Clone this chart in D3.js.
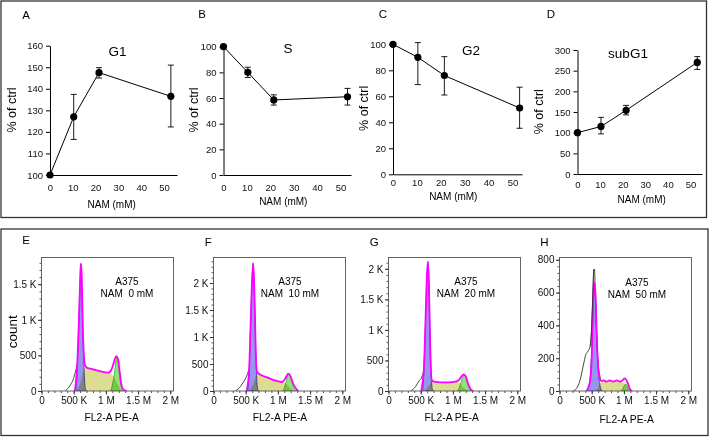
<!DOCTYPE html>
<html>
<head>
<meta charset="utf-8">
<script src="https://cdn.jsdelivr.net/npm/d3@7"></script>
<style>
body { margin: 0; background: #fff; }
text { font-family: "Liberation Sans", Arial, sans-serif; }
</style>
</head>
<body>
<script>
// ---- top row: % of ctrl vs NAM (mM) ----
var nam = [0, 10.4, 21.5, 53];
var namTicks = [0, 10, 20, 30, 40, 50];

var g1Vals = [100, 127, 147.5, 136.5];
var g1Lo = [100, 116.5, 145, 122.3];
var g1Hi = [100, 137.4, 149.8, 151];

var sVals = [100, 80, 58.5, 61];
var sLo = [100, 76, 54.5, 54.5];
var sHi = [100, 84, 62.5, 67.5];

var g2Vals = [100, 90, 76, 51];
var g2Lo = [100, 69, 61, 35.4];
var g2Hi = [100, 101.3, 90.5, 67];

var subG1Vals = [100, 115, 154, 270];
var subG1Lo = [100, 97, 143, 253];
var subG1Hi = [100, 137, 166, 284];

var topTitles = ["G1", "S", "G2", "subG1"];
var topLetters = ["A", "B", "C", "D"];
var topYTicks = [
  [100, 110, 120, 130, 140, 150, 160],
  [0, 20, 40, 60, 80, 100],
  [0, 20, 40, 60, 80, 100],
  [0, 50, 100, 150, 200, 250, 300]
];

// ---- bottom row: FL2-A histograms, points are [FL2-A in K, count] ----
var histLetters = ["E", "F", "G", "H"];
var histNam = ["NAM  0 mM", "NAM  10 mM", "NAM  20 mM", "NAM  50 mM"];
var histXTicks = [0, 500, 1000, 1500, 2000];
var histXLabels = ["0", "500 K", "1 M", "1.5 M", "2 M"];
var histYTicks = [
  [0, 500, 1000, 1500],
  [0, 500, 1000, 1500, 2000],
  [0, 500, 1000, 1500, 2000],
  [0, 200, 400, 600, 800]
];
var histYLabels = [
  ["0", "500", "1 K", "1.5 K"],
  ["0", "500", "1 K", "1.5 K", "2 K"],
  ["0", "500", "1 K", "1.5 K", "2 K"],
  ["0", "200", "400", "600", "800"]
];

var rawCurves = [
  [[368,0],[445,80],[497,173],[523,257],[554,360]],
  [[342,0],[420,86],[472,179],[513,271],[549,395]],
  [[342,0],[420,71],[472,164],[508,207],[544,317]],
  [[212,0],[264,16],[316,61],[368,152],[409,223],[446,244],[477,274],[497,365],[518,589],[534,741],[544,741],[554,629],[575,365],[596,183],[622,101],[642,71]]
];

var fitCurves = [
  [[518,0],[539,173],[554,360],[575,828],[591,1296],[606,1694],[611,1788],[622,1670],[632,1296],[643,828],[658,500],[673,370],[705,328],[756,314],[860,290],[963,267],[1041,257],[1093,314],[1129,417],[1160,491],[1187,454],[1212,290],[1238,103],[1274,19],[1326,0]],
  [[513,0],[539,179],[554,395],[575,1172],[596,1968],[616,2369],[632,1968],[648,1172],[663,487],[679,352],[730,302],[834,253],[963,191],[1067,167],[1119,241],[1160,321],[1197,271],[1233,148],[1274,56],[1316,0]],
  [[508,0],[534,180],[549,344],[570,972],[591,1736],[611,2118],[627,1790],[642,1026],[658,371],[673,180],[705,153],[808,142],[938,142],[1041,153],[1093,180],[1145,251],[1171,273],[1202,235],[1233,126],[1274,33],[1316,0]],
  [[420,0],[456,30],[482,81],[502,223],[518,467],[534,640],[544,660],[559,589],[580,325],[601,142],[627,71],[653,61],[689,65],[730,57],[782,65],[834,57],[886,65],[938,57],[979,65],[1015,77],[1041,65],[1067,41],[1098,10],[1129,0]]
];

var g1Curves = [
  [[530,0],[545,60],[556,360],[575,830],[591,1296],[611,1780],[622,1660],[632,1290],[643,820],[658,380],[670,130],[685,20],[700,0]],
  [[525,0],[540,60],[554,390],[575,1170],[596,1960],[616,2360],[632,1960],[648,1170],[663,480],[675,150],[690,20],[705,0]],
  [[520,0],[535,50],[549,340],[570,970],[591,1730],[611,2110],[627,1780],[642,1020],[658,360],[670,120],[685,15],[700,0]],
  [[415,0],[440,15],[470,60],[490,170],[505,280],[518,460],[534,630],[544,650],[559,585],[580,320],[601,140],[622,50],[645,10],[665,0]]
];

var sCurves = [
  [[545,0],[580,60],[620,170],[650,280],[673,340],[705,328],[756,312],[860,290],[963,268],[1041,255],[1090,235],[1130,190],[1170,120],[1210,50],[1245,0]],
  [[550,0],[590,70],[630,170],[663,300],[690,320],[730,300],[834,253],[963,191],[1067,167],[1110,150],[1150,110],[1190,55],[1230,15],[1255,0]],
  [[560,0],[600,50],[640,110],[673,160],[705,150],[808,142],[938,142],[1041,150],[1093,140],[1130,100],[1170,55],[1210,20],[1240,0]],
  [[560,0],[590,15],[620,40],[650,55],[690,60],[780,58],[880,58],[960,55],[1010,45],[1045,30],[1075,12],[1100,0]]
];

var g2Curves = [
  [[1070,0],[1095,60],[1120,180],[1145,330],[1162,470],[1185,430],[1205,280],[1225,120],[1250,30],[1275,0]],
  [[1075,0],[1100,50],[1130,180],[1160,310],[1190,270],[1215,170],[1240,70],[1265,15],[1285,0]],
  [[1070,0],[1095,40],[1125,140],[1155,240],[1175,270],[1200,230],[1225,130],[1250,40],[1275,5],[1290,0]],
  [[950,0],[985,15],[1015,38],[1040,42],[1060,25],[1085,8],[1105,0]]
];

var topVals = [g1Vals, sVals, g2Vals, subG1Vals];
var topLo = [g1Lo, sLo, g2Lo, subG1Lo];
var topHi = [g1Hi, sHi, g2Hi, subG1Hi];

var width = 709, height = 437;
var svg = d3.select("body").append("svg")
  .attr("width", width)
  .attr("height", height);

// outer frames
svg.append("rect").attr("x", 1).attr("y", 1).attr("width", 705.5).attr("height", 216.5)
  .attr("fill", "none").attr("stroke", "#333").attr("stroke-width", 1.3);
svg.append("rect").attr("x", 1).attr("y", 229).attr("width", 707).attr("height", 206.5)
  .attr("fill", "none").attr("stroke", "#333").attr("stroke-width", 1.3);

// layout for the top panels
var topLayout = [
  {x0: 50, x1: 177, xMax: 55.7, yTop: 45.7, yBot: 175, pad: 9, letter: [26, 15], title: [117.5, 51], ylab: [12, 110], xlab: [111.7, 204]},
  {x0: 223.5, x1: 351, xMax: 54.5, yTop: 46.7, yBot: 175, pad: 9, letter: [202, 13.5], title: [288, 48], ylab: [193.5, 110], xlab: [283.3, 201.7]},
  {x0: 393, x1: 522, xMax: 54, yTop: 44.3, yBot: 174.3, pad: 5, letter: [383, 13.5], title: [471, 50], ylab: [363.5, 108.3], xlab: [453.3, 196.7]},
  {x0: 577.5, x1: 702, xMax: 55.1, yTop: 50, yBot: 174, pad: 7, letter: [551, 14], title: [628, 53], ylab: [538.5, 111.7], xlab: [641.7, 199.3]}
];

function styleAxis(sel, size, color) {
  sel.selectAll("path, line").attr("stroke", color);
  sel.selectAll("text").attr("font-size", size).attr("fill", "#111")
    .attr("font-family", '"Liberation Sans", Arial, sans-serif');
}

topLayout.forEach(function(L, i) {
  var x = d3.scaleLinear().domain([0, L.xMax]).range([L.x0, L.x1]);
  var yDom = d3.extent(topYTicks[i]);
  var y = d3.scaleLinear().domain(yDom).range([L.yBot, L.yTop]);
  var g = svg.append("g");

  var ya = g.append("g").attr("transform", "translate(" + L.x0 + ",0)")
    .call(d3.axisLeft(y).tickValues(topYTicks[i]).tickSize(4).tickSizeOuter(0).tickPadding(3));
  styleAxis(ya, "9.5px", "#000");

  var xa = g.append("g").attr("transform", "translate(0," + L.yBot + ")")
    .call(d3.axisBottom(x).tickValues(namTicks).tickSize(0).tickSizeOuter(0).tickPadding(L.pad));
  styleAxis(xa, "9.5px", "#000");

  var vals = topVals[i], lo = topLo[i], hi = topHi[i];

  g.append("path")
    .datum(vals)
    .attr("fill", "none").attr("stroke", "#000").attr("stroke-width", 1)
    .attr("d", d3.line().x(function(d, k) { return x(nam[k]); }).y(function(d) { return y(d); }));

  // error bars with caps (the 0 mM point has none)
  var idx = d3.range(vals.length).filter(function(k) { return hi[k] !== lo[k]; });
  var eb = g.selectAll(".eb").data(idx).join("g").attr("class", "eb");
  eb.append("line")
    .attr("x1", function(k) { return x(nam[k]); })
    .attr("x2", function(k) { return x(nam[k]); })
    .attr("y1", function(k) { return y(hi[k]); })
    .attr("y2", function(k) { return y(lo[k]); })
    .attr("stroke", "#000").attr("stroke-width", 0.9);
  eb.append("line")
    .attr("x1", function(k) { return x(nam[k]) - 3; })
    .attr("x2", function(k) { return x(nam[k]) + 3; })
    .attr("y1", function(k) { return y(hi[k]); })
    .attr("y2", function(k) { return y(hi[k]); })
    .attr("stroke", "#000").attr("stroke-width", 0.9);
  eb.append("line")
    .attr("x1", function(k) { return x(nam[k]) - 3; })
    .attr("x2", function(k) { return x(nam[k]) + 3; })
    .attr("y1", function(k) { return y(lo[k]); })
    .attr("y2", function(k) { return y(lo[k]); })
    .attr("stroke", "#000").attr("stroke-width", 0.9);

  g.selectAll("circle").data(vals).join("circle")
    .attr("cx", function(d, k) { return x(nam[k]); })
    .attr("cy", function(d) { return y(d); })
    .attr("r", 3.6)
    .attr("fill", "#000");

  g.append("text").attr("x", L.letter[0]).attr("y", L.letter[1] + 4)
    .attr("text-anchor", "middle").attr("font-size", "11.5px").text(topLetters[i]);
  g.append("text").attr("x", L.title[0]).attr("y", L.title[1] + 4.8)
    .attr("text-anchor", "middle").attr("font-size", "13.5px").text(topTitles[i]);
  g.append("text").attr("transform", "translate(" + (L.ylab[0] + 4.3) + "," + L.ylab[1] + ") rotate(-90)")
    .attr("text-anchor", "middle").attr("font-size", "12.5px").text("% of ctrl");
  g.append("text").attr("x", L.xlab[0]).attr("y", L.xlab[1] + 3.6)
    .attr("text-anchor", "middle").attr("font-size", "10px").text("NAM (mM)");
});

// layout for the histogram panels
var histLayout = [
  {x0: 41.5, yMax: 1875, letter: [26, 240], label: [127, 285], xlab: [111.7, 417.7]},
  {x0: 213.5, yMax: 2472, letter: [208.3, 241.7], label: [290, 285], xlab: [280, 417.7]},
  {x0: 388.5, yMax: 2185, letter: [374.3, 241.7], label: [466, 285], xlab: [451.7, 417.7]},
  {x0: 559.5, yMax: 814, letter: [544.3, 242.3], label: [637, 286], xlab: [626.7, 419.3]}
];
var boxW = 132, boxTop = 257.5, boxBot = 391;

histLayout.forEach(function(L, i) {
  var x = d3.scaleLinear().domain([0, 2050]).range([L.x0, L.x0 + boxW]);
  var y = d3.scaleLinear().domain([0, L.yMax]).range([boxBot, boxTop]);
  var g = svg.append("g");

  g.append("clipPath").attr("id", "clip" + i).append("rect")
    .attr("x", L.x0).attr("y", boxTop).attr("width", boxW).attr("height", boxBot - boxTop);
  var plot = g.append("g").attr("clip-path", "url(#clip" + i + ")");

  var area = d3.area().x(function(d) { return x(d[0]); }).y0(y(0))
    .y1(function(d) { return y(d[1]); }).curve(d3.curveMonotoneX);
  var line = d3.line().x(function(d) { return x(d[0]); })
    .y(function(d) { return y(d[1]); }).curve(d3.curveMonotoneX);

  plot.append("path").datum(sCurves[i]).attr("d", area)
    .attr("fill", "#dcdc92").style("mix-blend-mode", "multiply");
  plot.append("path").datum(g1Curves[i]).attr("d", area)
    .attr("fill", "#9696f0").attr("stroke", "#3434d8").attr("stroke-width", 0.8)
    .style("mix-blend-mode", "multiply");
  plot.append("path").datum(g2Curves[i]).attr("d", area)
    .attr("fill", "#8ee47a").attr("stroke", "#30b030").attr("stroke-width", 0.8)
    .style("mix-blend-mode", "multiply");
  plot.append("path").datum(rawCurves[i]).attr("d", line)
    .attr("fill", "none").attr("stroke", "#333").attr("stroke-width", 0.9);
  plot.append("path").datum(fitCurves[i]).attr("d", line)
    .attr("fill", "none").attr("stroke", "#ff00ff").attr("stroke-width", 1.8);
  if (i === 3) {
    // raw peak pokes above the fit in the 50 mM panel
    plot.append("path").datum(rawCurves[i].slice(6, 11)).attr("d", line)
      .attr("fill", "none").attr("stroke", "#333").attr("stroke-width", 0.9);
  }

  g.append("rect").attr("x", L.x0).attr("y", boxTop).attr("width", boxW).attr("height", boxBot - boxTop)
    .attr("fill", "none").attr("stroke", "#555").attr("stroke-width", 0.9);

  // minor ticks
  var yStep = i === 3 ? 40 : 100;
  var ym = g.append("g").attr("transform", "translate(" + L.x0 + ",0)")
    .call(d3.axisLeft(y).tickValues(d3.range(0, L.yMax, yStep)).tickSize(2).tickSizeOuter(0).tickFormat(""));
  ym.select(".domain").remove();
  styleAxis(ym, "9px", "#555");
  var xm = g.append("g").attr("transform", "translate(0," + boxBot + ")")
    .call(d3.axisBottom(x).tickValues(d3.range(0, 2050, 100)).tickSize(2).tickSizeOuter(0).tickFormat(""));
  xm.select(".domain").remove();
  styleAxis(xm, "9px", "#555");

  var ya = g.append("g").attr("transform", "translate(" + L.x0 + ",0)")
    .call(d3.axisLeft(y).tickValues(histYTicks[i]).tickSize(3.5).tickSizeOuter(0).tickPadding(1.5)
      .tickFormat(function(d, k) { return histYLabels[i][k]; }));
  ya.select(".domain").remove();
  styleAxis(ya, "10px", "#333");

  var xa = g.append("g").attr("transform", "translate(0," + boxBot + ")")
    .call(d3.axisBottom(x).tickValues(histXTicks).tickSize(3.5).tickSizeOuter(0).tickPadding(2.5)
      .tickFormat(function(d, k) { return histXLabels[k]; }));
  xa.select(".domain").remove();
  styleAxis(xa, "10px", "#333");

  g.append("text").attr("x", L.letter[0]).attr("y", L.letter[1] + 4)
    .attr("text-anchor", "middle").attr("font-size", "11.5px").text(histLetters[i]);
  g.append("text").attr("x", L.label[0]).attr("y", L.label[1])
    .attr("text-anchor", "middle").attr("font-size", "10px").text("A375");
  g.append("text").attr("x", L.label[0]).attr("y", L.label[1] + 12)
    .attr("text-anchor", "middle").attr("font-size", "10px")
    .style("white-space", "pre").text(histNam[i]);
  g.append("text").attr("x", L.xlab[0]).attr("y", L.xlab[1] + 3.6)
    .attr("text-anchor", "middle").attr("font-size", "10.3px").text("FL2-A PE-A");
});

svg.append("text").attr("transform", "translate(" + 16.5 + "," + 331.7 + ") rotate(-90)")
  .attr("text-anchor", "middle").attr("font-size", "13.5px").text("count");
</script>
</body>
</html>
